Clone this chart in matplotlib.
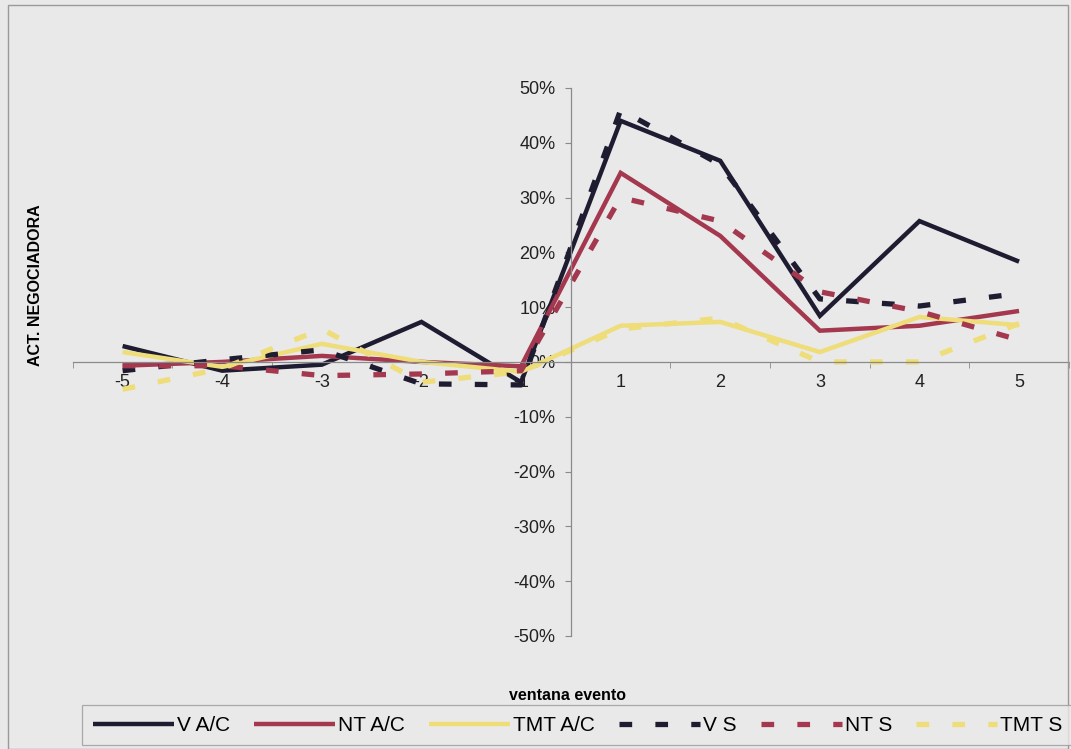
import matplotlib.pyplot as plt
from matplotlib.patches import Rectangle
from matplotlib.ticker import PercentFormatter

plt.rcParams['font.family'] = ['Liberation Sans', 'DejaVu Sans']
plt.rcParams['axes.unicode_minus'] = False

# ventana del evento (sin el dia 0)
dias = ['-5', '-4', '-3', '-2', '-1', '1', '2', '3', '4', '5']

# actividad negociadora, en tanto por uno
v_ac = [0.029, -0.016, -0.005, 0.073, -0.037, 0.44, 0.367, 0.084, 0.257, 0.183]
nt_ac = [-0.007, 0.0, 0.011, 0.0, -0.008, 0.345, 0.23, 0.057, 0.066, 0.093]
tmt_ac = [0.018, -0.009, 0.033, 0.0, -0.018, 0.066, 0.073, 0.018, 0.082, 0.067]
v_s = [-0.016, 0.004, 0.022, -0.04, -0.042, 0.46, 0.36, 0.115, 0.102, 0.125]
nt_s = [-0.007, -0.007, -0.025, -0.022, -0.016, 0.30, 0.257, 0.128, 0.092, 0.04]
tmt_s = [-0.05, -0.012, 0.06, -0.037, -0.018, 0.06, 0.08, 0.0, 0.0, 0.07]

c_v = '#1e1c30'
c_nt = '#a3384f'
c_tmt = '#eedd78'
bg = '#e9e9ea'
gris = '#8a8a8a'

fig = plt.figure(figsize=(10.71, 7.49), dpi=100, facecolor=bg)
ax = fig.add_axes([0.068, 0.151, 0.93, 0.7316])
ax.set_facecolor(bg)

x = list(range(len(dias)))
solid = dict(lw=3.2, solid_capstyle='butt', solid_joinstyle='miter')
dash = dict(lw=3.8, dashes=(2.4, 4.4), dash_capstyle='butt')

ax.plot(x, v_ac, color=c_v, label='V A/C', **solid)
ax.plot(x, nt_ac, color=c_nt, label='NT A/C', **solid)
ax.plot(x, tmt_ac, color=c_tmt, label='TMT A/C', **solid)
ax.plot(x, v_s, color=c_v, label='V S', **dash)
ax.plot(x, nt_s, color=c_nt, label='NT S', **dash)
ax.plot(x, tmt_s, color=c_tmt, label='TMT S', **dash)

ax.set_xlim(-0.5, 9.5)
ax.set_ylim(-0.5, 0.5)

# ejes cruzando en el origen, eje vertical entre -1 y 1
for s in ['top', 'right']:
    ax.spines[s].set_visible(False)
ax.spines['left'].set_position(('data', 4.5))
ax.spines['bottom'].set_position(('data', 0))
ax.spines['left'].set_color(gris)
ax.spines['bottom'].set_color(gris)
ax.spines['left'].set_linewidth(0.9)
ax.spines['bottom'].set_linewidth(0.9)

ax.set_yticks([i / 10 for i in range(-5, 6)])
ax.yaxis.set_major_formatter(PercentFormatter(1.0, decimals=0))
ax.tick_params(axis='y', direction='out', length=4, color=gris, labelsize=13,
               pad=7, labelcolor='#222222')

ax.set_xticks(x)
ax.set_xticklabels(dias)
ax.set_xticks([i + 0.5 for i in range(-1, 10)], minor=True)
ax.tick_params(axis='x', which='major', length=0, labelsize=13, pad=9,
               labelcolor='#222222')
ax.tick_params(axis='x', which='minor', direction='out', length=4, color=gris)

ax.set_ylabel('ACT. NEGOCIADORA', fontsize=11.5, fontweight='bold', labelpad=0)
ax.yaxis.set_label_coords(-0.03, 0.64)
fig.text(0.53, 0.071, 'ventana evento', ha='center', va='center',
         fontsize=11.5, fontweight='bold')

# marco exterior
fig.patches.append(Rectangle((0.0075, 0.0), 0.99, 0.993, transform=fig.transFigure,
                             fill=False, edgecolor='#9a9a9a', lw=1.0))

leg = fig.legend(loc='lower left', bbox_to_anchor=(0.077, 0.005, 0.925, 0.05),
                 mode='expand', ncol=6, frameon=True, fontsize=15,
                 handlelength=3.9, handletextpad=0.15, columnspacing=0.3,
                 borderpad=0.5, borderaxespad=0.0, fancybox=False)
leg.get_frame().set_facecolor(bg)
leg.get_frame().set_edgecolor('#9a9a9a')
leg.get_frame().set_linewidth(0.9)

fig.savefig('out.png', dpi=100, facecolor=bg)
